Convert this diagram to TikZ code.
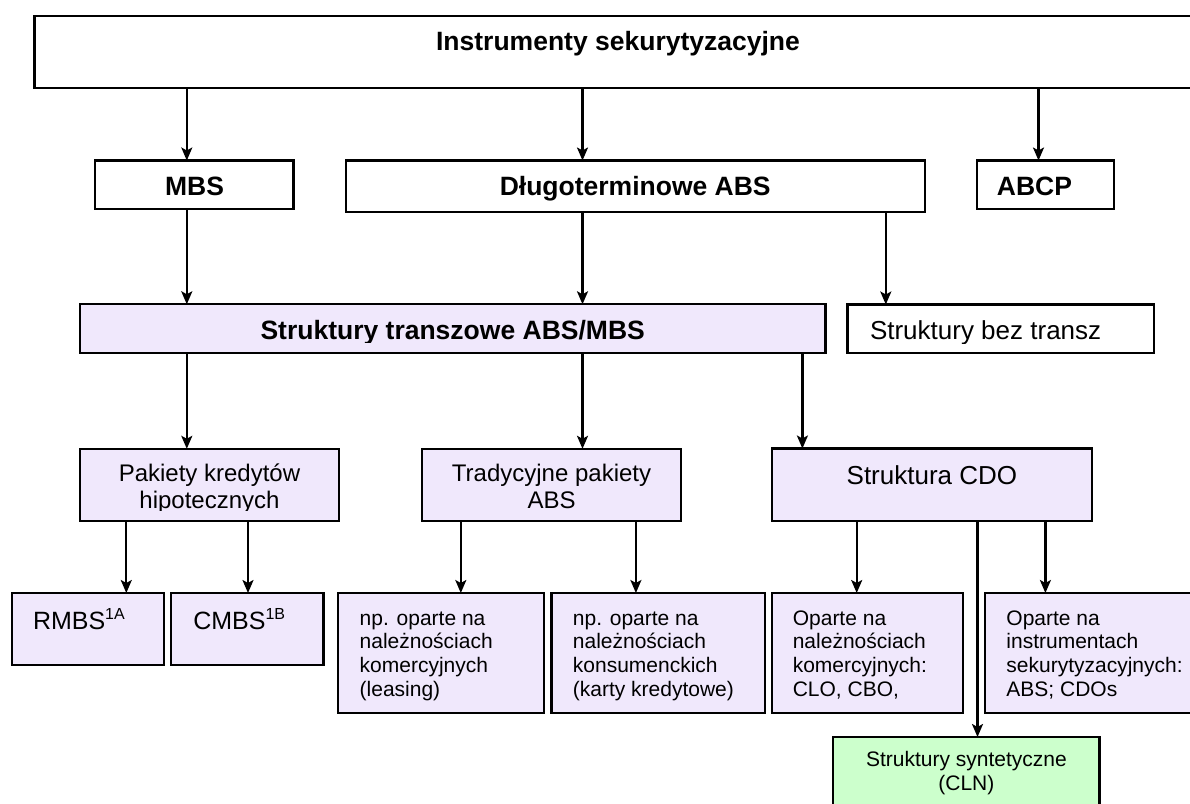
\documentclass[tikz,border=0pt]{standalone}
\usepackage{fontspec}
\setmainfont{Liberation Sans}
\usetikzlibrary{arrows.meta}
\definecolor{lav}{RGB}{240,232,252}
\definecolor{grn}{RGB}{204,255,204}
\begin{document}
\begin{tikzpicture}[x=1pt,y=-1pt,
  box/.style={draw=black, line width=2.2pt, rectangle, inner sep=0pt, outer sep=0pt, fill=white},
  lbox/.style={box, fill=lav},
  gbox/.style={box, fill=grn},
  arr/.style={line width=2.2pt, -{Stealth[length=13pt,width=11pt,inset=3pt]}},
  txt/.style={inner sep=0pt, outer sep=0pt},
  ttl/.style={txt, font=\bfseries\fontsize{26.5}{30}\selectfont},
  big/.style={txt, font=\fontsize{26}{30}\selectfont},
  mid/.style={txt, font=\fontsize{24}{26.7}\selectfont},
  rm/.style={txt, font=\fontsize{25}{28}\selectfont},
  sml/.style={txt, font=\fontsize{21}{23.7}\selectfont},
  syn/.style={txt, font=\fontsize{21}{23.3}\selectfont}
]
\useasboundingbox (0,0) rectangle (1190,803);

% boxes
\node[box, minimum width=1180pt, minimum height=72.3pt] (top) at (624.4,52.15) {};
\node[box, minimum width=198.2pt, minimum height=48.8pt] (mbs) at (194.4,184.9) {};
\node[box, minimum width=578.7pt, minimum height=51.8pt] (dlug) at (635.65,186.4) {};
\node[box, minimum width=137pt, minimum height=48.8pt] (abcp) at (1045.8,184.9) {};
\node[lbox, minimum width=745.4pt, minimum height=49pt] (str) at (452.7,328.8) {};
\node[box, minimum width=306.5pt, minimum height=48.8pt] (bez) at (1000.75,328.9) {};
\node[lbox, minimum width=259pt, minimum height=71.9pt] (pak) at (209.5,484.75) {};
\node[lbox, minimum width=258.9pt, minimum height=71.9pt] (trad) at (551.55,484.75) {};
\node[lbox, minimum width=319.9pt, minimum height=72.2pt] (cdo) at (931.75,484.6) {};
\node[lbox, minimum width=152.7pt, minimum height=72pt] (rmbs) at (87.95,629) {};
\node[lbox, minimum width=152.2pt, minimum height=72pt] (cmbs) at (247.4,629) {};
\node[lbox, minimum width=205.9pt, minimum height=120.3pt] (leas) at (441.25,653.15) {};
\node[lbox, minimum width=213.5pt, minimum height=120.3pt] (karty) at (658.25,653.15) {};
\node[lbox, minimum width=191.3pt, minimum height=120.3pt] (clo) at (867.45,653.15) {};
\node[lbox, minimum width=225pt, minimum height=120.3pt] (absc) at (1097.5,653.15) {};
\node[gbox, minimum width=266.2pt, minimum height=86pt] (synt) at (966.4,780) {};

% texts
\node[ttl, anchor=base] (top-t) at (618,50) {Instrumenty sekurytyzacyjne};
\node[ttl, anchor=base] (mbs-t) at (194.6,195) {MBS};
\node[ttl, anchor=base] (dlug-t) at (635.2,195) {Długoterminowe ABS};
\node[ttl, anchor=base] (abcp-t) at (1034.5,195) {ABCP};
\begin{scope}
  \clip (str.north west) rectangle ([yshift=11pt]str.south east);
  \node[ttl, anchor=base] (str-t) at (452.7,339.3) {Struktury transzowe ABS/MBS};
\end{scope}
\begin{scope}
  \clip (bez.north west) rectangle ([yshift=10pt]bez.south east);
  \node[big, anchor=base west] (bez-t) at (870,339.3) {Struktury bez transz};
\end{scope}
\begin{scope}
  \clip (pak.north west) rectangle ([yshift=10pt]pak.south east);
  \node[mid, anchor=base] (pak-t) at (209.5,481.7) {\parbox[t]{250pt}{\centering Pakiety kredytów\\hipotecznych}};
\end{scope}
\node[mid, anchor=base] (trad-t) at (551.55,481.7) {\parbox[t]{250pt}{\centering Tradycyjne pakiety\\ABS}};
\node[big, anchor=base] (cdo-t) at (931.9,484.3) {Struktura CDO};
\node[rm, anchor=base west] (rmbs-t) at (33,629.3) {RMBS\raisebox{10pt}{\fontsize{16}{16}\selectfont 1A}};
\node[rm, anchor=base west] (cmbs-t) at (193.3,629.3) {CMBS\raisebox{10pt}{\fontsize{16}{16}\selectfont 1B}};
\node[sml, anchor=base west] (leas-t) at (359.7,625) {\parbox[t]{190pt}{\raggedright np. oparte na\\należnościach\\komercyjnych\\(leasing)}};
\node[sml, anchor=base west] (karty-t) at (572.9,625) {\parbox[t]{190pt}{\raggedright np. oparte na\\należnościach\\konsumenckich\\(karty kredytowe)}};
\node[sml, anchor=base west] (clo-t) at (792.8,625) {\parbox[t]{190pt}{\raggedright Oparte na\\należnościach\\komercyjnych:\\CLO, CBO,}};
\node[sml, anchor=base west] (absc-t) at (1006.4,625) {\parbox[t]{190pt}{\raggedright Oparte na\\instrumentach\\sekurytyzacyjnych:\\ABS; CDOs}};
\node[syn, anchor=base] (synt-t) at (966.4,766.7) {\parbox[t]{250pt}{\centering Struktury syntetyczne\\(CLN)}};

% connector x positions
\coordinate (xa) at (186.8,0);
\coordinate (xb) at (582.5,0);
\coordinate (xc) at (1038.5,0);
\coordinate (xd) at (885.8,0);
\coordinate (xe) at (802.4,0);
\coordinate (xf) at (126.3,0);
\coordinate (xg) at (248,0);
\coordinate (xh) at (460.8,0);
\coordinate (xi) at (635.9,0);
\coordinate (xj) at (856.7,0);
\coordinate (xk) at (1045.4,0);
\coordinate (xl) at (977.5,0);

% connectors
\draw[arr] (top.south -| xa) -- (mbs.north -| xa);
\draw[arr] (top.south -| xb) -- (dlug.north -| xb);
\draw[arr] (top.south -| xc) -- (abcp.north -| xc);
\draw[arr] (mbs.south -| xa) -- (str.north -| xa);
\draw[arr] (dlug.south -| xb) -- (str.north -| xb);
\draw[arr] (dlug.south -| xd) -- (bez.north -| xd);
\draw[arr] (str.south -| xa) -- (pak.north -| xa);
\draw[arr] (str.south -| xb) -- (trad.north -| xb);
\draw[arr] (str.south -| xe) -- (cdo.north -| xe);
\draw[arr] (pak.south -| xf) -- (rmbs.north -| xf);
\draw[arr] (pak.south -| xg) -- (cmbs.north -| xg);
\draw[arr] (trad.south -| xh) -- (leas.north -| xh);
\draw[arr] (trad.south -| xi) -- (karty.north -| xi);
\draw[arr] (cdo.south -| xj) -- (clo.north -| xj);
\draw[arr] (cdo.south -| xk) -- (absc.north -| xk);
\draw[arr] (cdo.south -| xl) -- (synt.north -| xl);
\end{tikzpicture}
\end{document}
